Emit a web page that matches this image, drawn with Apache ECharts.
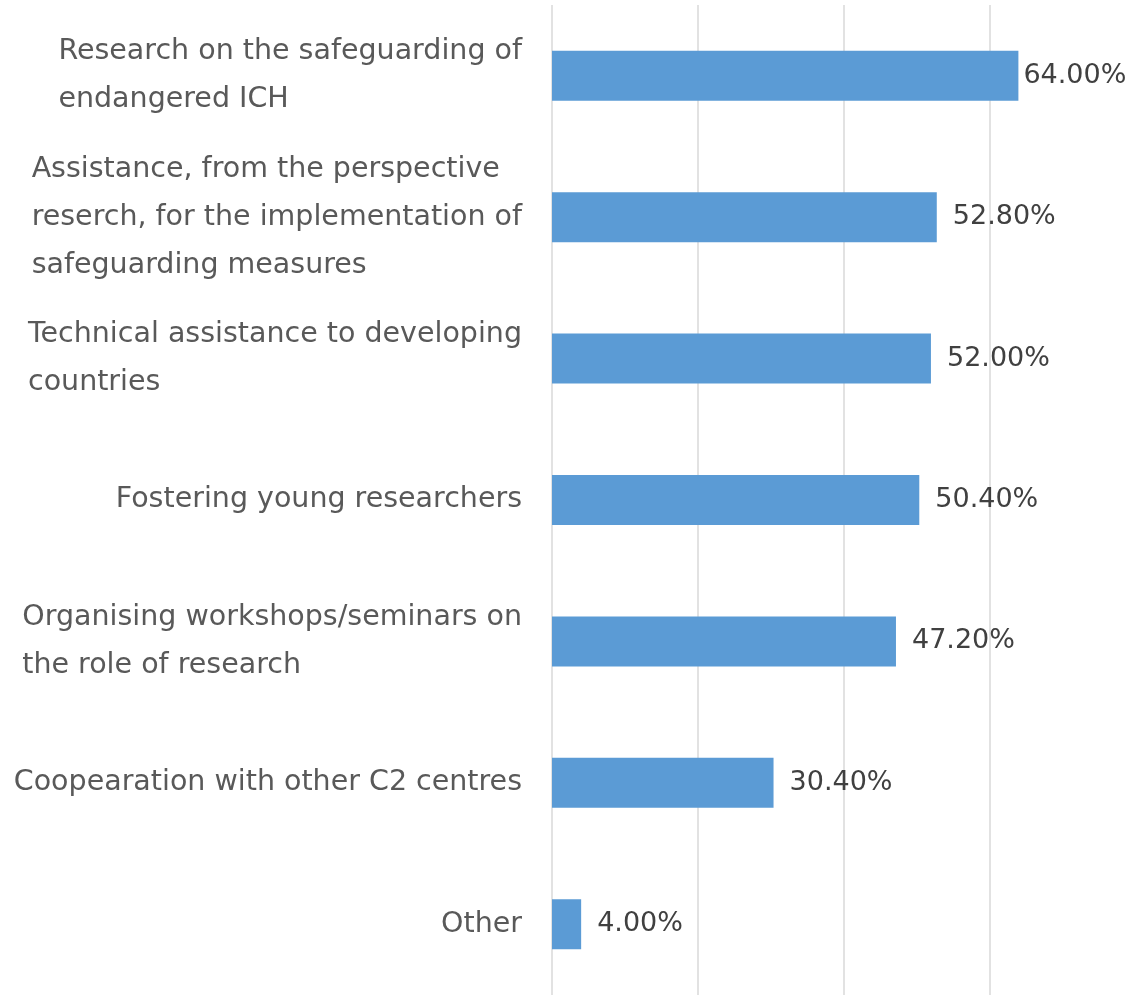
<!DOCTYPE html>
<html>
<head>
<meta charset="utf-8">
<script src="https://cdn.jsdelivr.net/npm/echarts@6/dist/echarts.min.js"></script>
<style>
  html, body { margin: 0; padding: 0; background: #fff; }
  #chart { width: 1135px; height: 997px; }
</style>
</head>
<body>
<div id="chart"></div>
<script>
// categories, top to bottom
const categories = [
  'Research on the safeguarding of\nendangered ICH',
  'Assistance, from the perspective\nreserch, for the implementation of\nsafeguarding measures',
  'Technical assistance to developing\ncountries',
  'Fostering young researchers',
  'Organising workshops/seminars on\nthe role of research',
  'Coopearation with other C2 centres',
  'Other'
];
// percent values
const shares = [64.0, 52.8, 52.0, 50.4, 47.2, 30.4, 4.0];
// x axis ticks (labels hidden in the original)
const xTicks = [0, 20, 40, 60, 80];

const FONT = '"DejaVu Sans", Verdana, sans-serif';

const chart = echarts.init(document.getElementById('chart'));

const option = {
  animation: false,
  grid: {
    left: 552,
    top: 5,
    width: 584,
    height: 990
  },
  xAxis: {
    type: 'value',
    min: xTicks[0],
    max: xTicks[xTicks.length - 1],
    interval: xTicks[1] - xTicks[0],
    axisLine: { show: false },
    axisTick: { show: false },
    axisLabel: { show: false },
    splitLine: {
      show: true,
      showMaxLine: false,
      lineStyle: { color: '#d9d9d9', width: 1.5 }
    }
  },
  yAxis: {
    type: 'category',
    inverse: true,
    data: categories,
    axisLine: { show: false },
    axisTick: { show: false },
    axisLabel: {
      margin: 30,
      align: 'right',
      color: '#595959',
      fontFamily: FONT,
      fontSize: 28.5,
      lineHeight: 48,
      // keep lines left aligned inside a right anchored block
      formatter: function (val) {
        return val.split('\n').map(function (s) { return '{l|' + s + '}'; }).join('\n');
      },
      rich: {
        l: {
          align: 'left',
          color: '#595959',
          fontFamily: FONT,
          fontSize: 28.5,
          lineHeight: 48
        }
      }
    }
  },
  series: [
    {
      type: 'bar',
      barWidth: 50,
      itemStyle: { color: '#5b9bd5' },
      label: {
        show: true,
        position: 'right',
        distance: 16,
        color: '#404040',
        fontFamily: FONT,
        fontSize: 27,
        formatter: function (p) { return p.value.toFixed(2) + '%'; }
      },
      data: shares.map(function (v, i) {
        // first label sits tight against the bar so it fits on the canvas
        return i === 0 ? { value: v, label: { distance: 5 } } : v;
      })
    }
  ]
};

chart.setOption(option);
</script>
</body>
</html>
